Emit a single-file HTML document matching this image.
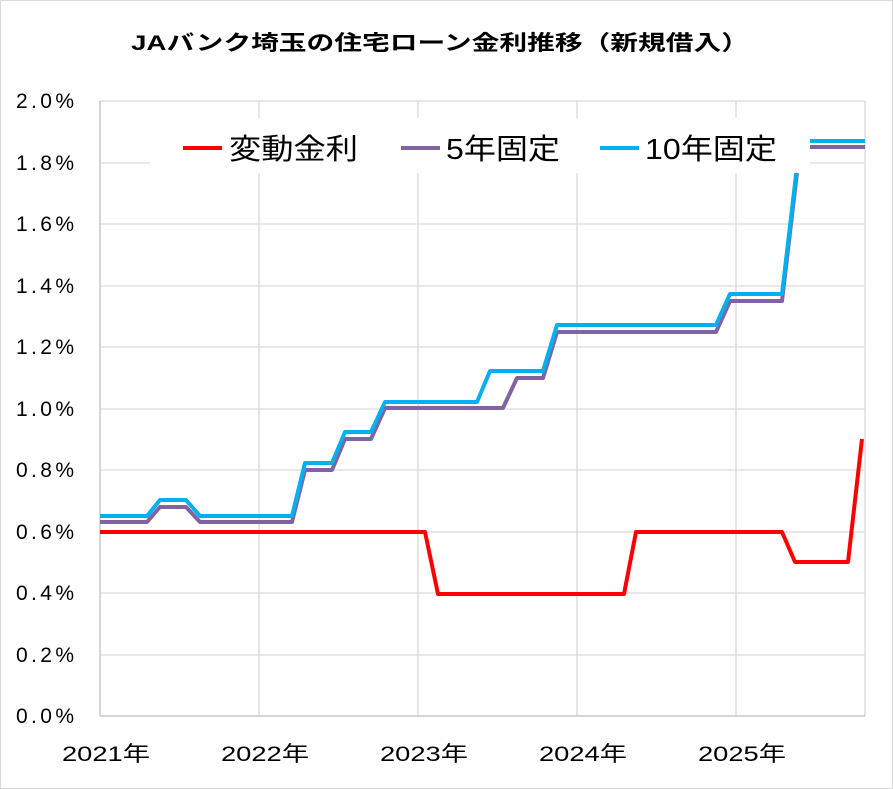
<!DOCTYPE html>
<html><head><meta charset="utf-8"><style>
body{margin:0;background:#fff}
svg{display:block;font-family:"Liberation Sans","Noto Sans CJK JP",sans-serif}
</style></head><body>
<svg width="893" height="789" viewBox="0 0 893 789">
<rect x="0.5" y="0.5" width="892" height="788" fill="#fff" stroke="#d9d9d9"/>
<text x="131" y="50" font-size="21" font-weight="bold" fill="#000" textLength="618" lengthAdjust="spacingAndGlyphs">JAバンク埼玉の住宅ローン金利推移（新規借入）</text>
<g stroke="#d9d9d9" stroke-width="1.3">
<line x1="100" y1="101" x2="865" y2="101"/><line x1="100" y1="163" x2="865" y2="163"/>
<line x1="100" y1="224" x2="865" y2="224"/><line x1="100" y1="286" x2="865" y2="286"/>
<line x1="100" y1="347" x2="865" y2="347"/><line x1="100" y1="409" x2="865" y2="409"/>
<line x1="100" y1="470" x2="865" y2="470"/><line x1="100" y1="532" x2="865" y2="532"/>
<line x1="100" y1="593" x2="865" y2="593"/><line x1="100" y1="655" x2="865" y2="655"/>
<line x1="259" y1="101" x2="259" y2="716"/><line x1="418" y1="101" x2="418" y2="716"/>
<line x1="577" y1="101" x2="577" y2="716"/><line x1="736" y1="101" x2="736" y2="716"/>
<line x1="865" y1="101" x2="865" y2="716"/>
</g>
<line x1="100" y1="101" x2="100" y2="716" stroke="#bfbfbf" stroke-width="1.3"/>
<line x1="100" y1="716" x2="865" y2="716" stroke="#bfbfbf" stroke-width="1.3"/>
<g font-size="21" fill="#000">
<text x="16" y="108" textLength="58">2.0%</text><text x="16" y="170" textLength="58">1.8%</text><text x="16" y="231" textLength="58">1.6%</text>
<text x="16" y="293" textLength="58">1.4%</text><text x="16" y="354" textLength="58">1.2%</text><text x="16" y="416" textLength="58">1.0%</text>
<text x="16" y="477" textLength="58">0.8%</text><text x="16" y="539" textLength="58">0.6%</text><text x="16" y="600" textLength="58">0.4%</text>
<text x="16" y="662" textLength="58">0.2%</text><text x="16" y="723" textLength="58">0.0%</text>
</g>
<g font-size="21" fill="#000">
<text x="62" y="761" textLength="88" lengthAdjust="spacingAndGlyphs">2021年</text>
<text x="221" y="761" textLength="88" lengthAdjust="spacingAndGlyphs">2022年</text>
<text x="380" y="761" textLength="88" lengthAdjust="spacingAndGlyphs">2023年</text>
<text x="539" y="761" textLength="88" lengthAdjust="spacingAndGlyphs">2024年</text>
<text x="698" y="761" textLength="88" lengthAdjust="spacingAndGlyphs">2025年</text>
</g>
<g fill="none" stroke-width="4" stroke-linejoin="round">
<polyline stroke="#8064a2" points="100,522 147,522 160,507 186,507 200,522 292,522 305,470 332,470 345,439 371,439 385,408 503,408 517,378 543,378 557,332 716,332 730,301 782,301 800,147 865,147"/>
<polyline stroke="#00b0f0" points="100,516 147,516 160,500 186,500 200,516 292,516 305,463 332,463 345,432 371,432 385,402 477,402 490,371 543,371 557,325 716,325 730,294 782,294 800,141 865,141"/>
<polyline stroke="#ff0000" points="100,532 425,532 438,594 624,594 636,532 782,532 795,562 848,562 862,439"/>
</g>
<rect x="150" y="118" width="660" height="55" fill="#fff"/>
<g font-size="29" fill="#000">
<line x1="183" y1="148" x2="222" y2="148" stroke="#ff0000" stroke-width="4"/>
<text x="229" y="159" textLength="129" lengthAdjust="spacingAndGlyphs">変動金利</text>
<line x1="401" y1="148" x2="440" y2="148" stroke="#8064a2" stroke-width="4"/>
<text x="446" y="159" textLength="114" lengthAdjust="spacingAndGlyphs">5年固定</text>
<line x1="600" y1="148" x2="639" y2="148" stroke="#00b0f0" stroke-width="4"/>
<text x="645" y="159" textLength="132" lengthAdjust="spacingAndGlyphs">10年固定</text>
</g>
</svg>
</body></html>
